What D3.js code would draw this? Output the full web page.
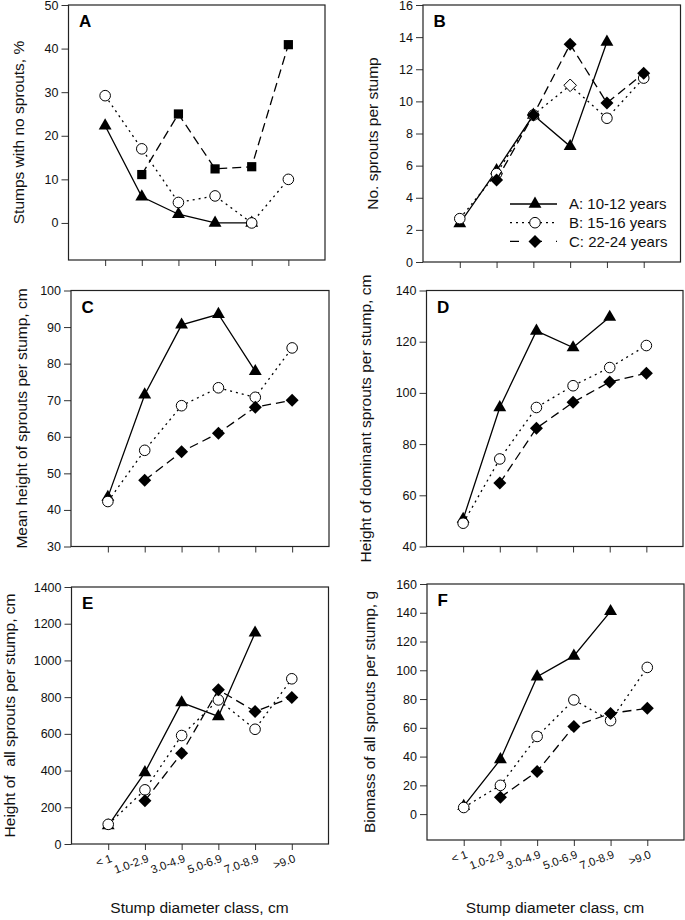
<!DOCTYPE html>
<html>
<head>
<meta charset="utf-8">
<script src="https://cdn.jsdelivr.net/npm/d3@7"></script>
<style>
  body { margin: 0; background: #fff; }
  svg { display: block; font-family: "Liberation Sans", Arial, sans-serif; }
</style>
</head>
<body>
<svg id="chart"></svg>
<script>
// stump diameter classes (x axis)
const categories = ["< 1", "1.0-2.9", "3.0-4.9", "5.0-6.9", "7.0-8.9", ">9.0"];
const seriesNames = ["A: 10-12 years", "B: 15-16 years", "C: 22-24 years"];

// A - stumps with no sprouts, %
const noSproutsA = [22.3, 6.0, 2.0, 0, 0, null];
const noSproutsB = [29.2, 17.0, 4.7, 6.2, 0, 10.0];
const noSproutsC = [null, 11.1, 25.0, 12.4, 12.9, 40.9];

// B - no. sprouts per stump
const sproutsA = [2.4, 5.7, 9.15, 7.2, 13.7, null];
const sproutsB = [2.7, 5.5, 9.15, 11.0, 8.95, 11.45];
const sproutsC = [null, 5.1, 9.15, 13.55, 9.9, 11.75];
const sproutsBOpenDiamond = 3;   // that one point is drawn as open diamond in the original

// C - mean height of sprouts per stump, cm
const meanHeightA = [43.5, 71.5, 90.6, 93.5, 77.9, null];
const meanHeightB = [42.3, 56.3, 68.5, 73.4, 70.8, 84.3];
const meanHeightC = [null, 48.1, 55.9, 61.0, 68.1, 70.0];

// D - height of dominant sprouts per stump, cm
const domHeightA = [50.7, 94.3, 124.2, 117.7, 129.6, null];
const domHeightB = [49.1, 74.2, 94.3, 102.8, 109.9, 118.5];
const domHeightC = [null, 64.8, 86.2, 96.3, 104.3, 107.7];

// E - height of all sprouts per stump, cm
const allHeightA = [100, 390, 770, 695, 1150, null];
const allHeightB = [107, 295, 591, 785, 625, 900];
const allHeightC = [null, 236, 495, 840, 722, 798];

// F - biomass of all sprouts per stump, g
const biomassA = [5.5, 38, 95.5, 110, 141, null];
const biomassB = [4.6, 20, 54, 79.4, 65, 102];
const biomassC = [null, 11.7, 29.7, 61, 70, 73.6];

const W = 685, H = 920;
const svg = d3.select("#chart").attr("width", W).attr("height", H);

const panels = [
  { letter: "A", box: [68.5, 5, 325, 260], y: [-8.5, 50], ticks: d3.range(0, 51, 10),
    title: "Stumps with no sprouts, %", tx: 19, data: [noSproutsA, noSproutsB, noSproutsC], square: true },
  { letter: "B", box: [423, 5, 680.5, 262], y: [0, 16], ticks: d3.range(0, 17, 2),
    title: "No. sprouts per stump", tx: 373, data: [sproutsA, sproutsB, sproutsC], legend: true },
  { letter: "C", box: [71, 290.5, 329, 546.5], y: [30, 100], ticks: d3.range(30, 101, 10),
    title: "Mean height of sprouts per stump, cm", tx: 22, data: [meanHeightA, meanHeightB, meanHeightC] },
  { letter: "D", box: [426.5, 290.5, 683, 546.5], y: [40, 140], ticks: d3.range(40, 141, 20),
    title: "Height of dominant sprouts per stump, cm", tx: 366, data: [domHeightA, domHeightB, domHeightC] },
  { letter: "E", box: [71.5, 587, 328.5, 844], y: [0, 1400], ticks: d3.range(0, 1401, 200),
    title: "Height of  all sprouts per stump, cm", tx: 9.5, data: [allHeightA, allHeightB, allHeightC], xlabels: true },
  { letter: "F", box: [427, 584, 684, 840], y: [-18, 160], ticks: d3.range(0, 161, 20),
    title: "Biomass of all sprouts per stump, g", tx: 370, data: [biomassA, biomassB, biomassC], xlabels: true }
];

const lineStyles = [
  { dash: null },
  { dash: "2,4" },
  { dash: "9,5" }
];

const diamondPath = (r) => `M0,${-r}L${r},0L0,${r}L${-r},0Z`;

function drawMarker(g, kind, x, y) {
  if (kind === "triangle") {
    g.append("path").attr("d", d3.symbol(d3.symbolTriangle, 72)())
      .attr("transform", `translate(${x},${y})`).attr("fill", "#000");
  } else if (kind === "circle") {
    g.append("circle").attr("cx", x).attr("cy", y).attr("r", 5.3)
      .attr("fill", "#fff").attr("stroke", "#000").attr("stroke-width", 1);
  } else if (kind === "openDiamond") {
    g.append("path").attr("d", diamondPath(6.3)).attr("transform", `translate(${x},${y})`)
      .attr("fill", "#fff").attr("stroke", "#000").attr("stroke-width", 1);
  } else if (kind === "square") {
    g.append("rect").attr("x", x - 4.6).attr("y", y - 4.6).attr("width", 9.2).attr("height", 9.2)
      .attr("fill", "#000");
  } else {
    g.append("path").attr("d", diamondPath(6.5)).attr("transform", `translate(${x},${y})`)
      .attr("fill", "#000");
  }
}

panels.forEach(p => {
  const [x0, y0, x1, y1] = p.box;
  const g = svg.append("g");
  const x = d3.scaleLinear().domain([-1, categories.length]).range([x0, x1]);
  const y = d3.scaleLinear().domain(p.y).range([y1, y0]);

  // y axis ticks + labels
  const yAxis = d3.axisLeft(y).tickValues(p.ticks).tickSize(7).tickPadding(3).tickFormat(d3.format("d"));
  const yg = g.append("g").attr("transform", `translate(${x0},0)`).call(yAxis)
    .attr("font-family", null).attr("font-size", null);
  yg.select(".domain").remove();
  yg.selectAll("line").attr("stroke", "#333");
  yg.selectAll("text").attr("font-size", 12.5).attr("fill", "#111");

  // x axis ticks
  const xAxis = d3.axisBottom(x).tickValues(d3.range(categories.length)).tickSize(6).tickFormat("");
  const xg = g.append("g").attr("transform", `translate(0,${y1})`).call(xAxis)
    .attr("font-family", null).attr("font-size", null);
  xg.select(".domain").remove();
  xg.selectAll("line").attr("stroke", "#333");
  xg.selectAll(".tick text").remove();

  if (p.xlabels) {
    xg.selectAll(".tick").append("text")
      .attr("transform", "translate(4,17.5) rotate(-20)")
      .attr("text-anchor", "end")
      .attr("font-size", 11.5)
      .attr("fill", "#111")
      .text(d => categories[d]);
    g.append("text")
      .attr("x", (x0 + x1) / 2 - 0.5).attr("y", 913)
      .attr("text-anchor", "middle").attr("font-size", 15.5).attr("fill", "#111")
      .text("Stump diameter class, cm");
  }

  // frame
  g.append("rect").attr("x", x0).attr("y", y0).attr("width", x1 - x0).attr("height", y1 - y0)
    .attr("fill", "none").attr("stroke", "#222").attr("stroke-width", 1.2);

  // panel letter
  g.append("text").attr("x", x0 + 10.5).attr("y", y0 + 22)
    .attr("font-size", 17).attr("font-weight", "bold").attr("fill", "#000").text(p.letter);

  // y title
  g.append("text")
    .attr("transform", `translate(${p.tx},${(y0 + y1) / 2}) rotate(-90)`)
    .attr("text-anchor", "middle").attr("dy", "0.35em")
    .attr("font-size", 15.5).attr("fill", "#111")
    .style("white-space", "pre")
    .text(p.title);

  // series
  const line = d3.line().defined(d => d[1] != null).x(d => x(d[0])).y(d => y(d[1]));
  p.data.forEach((vals, si) => {
    const pts = vals.map((v, i) => [i, v]);
    const path = g.append("path").datum(pts).attr("d", line)
      .attr("fill", "none").attr("stroke", "#000").attr("stroke-width", 1.3);
    if (lineStyles[si].dash) path.attr("stroke-dasharray", lineStyles[si].dash);
    pts.filter(d => d[1] != null).forEach(d => {
      let kind = si === 0 ? "triangle" : si === 1 ? "circle" : (p.square ? "square" : "diamond");
      if (p.letter === "B" && si === 1 && d[0] === sproutsBOpenDiamond) kind = "openDiamond";
      drawMarker(g, kind, x(d[0]), y(d[1]));
    });
  });

  if (p.legend) {
    const lg = g.append("g").attr("transform", "translate(510,204)");
    seriesNames.forEach((name, i) => {
      const row = lg.append("g").attr("transform", `translate(0,${i * 18.7})`);
      const ln = row.append("line").attr("x1", 0).attr("x2", 47).attr("y1", 0).attr("y2", 0)
        .attr("stroke", "#000").attr("stroke-width", 1.3);
      if (lineStyles[i].dash) ln.attr("stroke-dasharray", i === 1 ? "2,4" : "9,14");
      drawMarker(row, i === 0 ? "triangle" : i === 1 ? "circle" : "diamond", 25, 0);
      row.append("text").attr("x", 59).attr("y", 0).attr("dy", "0.35em")
        .attr("font-size", 15).attr("fill", "#111").text(name);
    });
  }
});
</script>
</body>
</html>
